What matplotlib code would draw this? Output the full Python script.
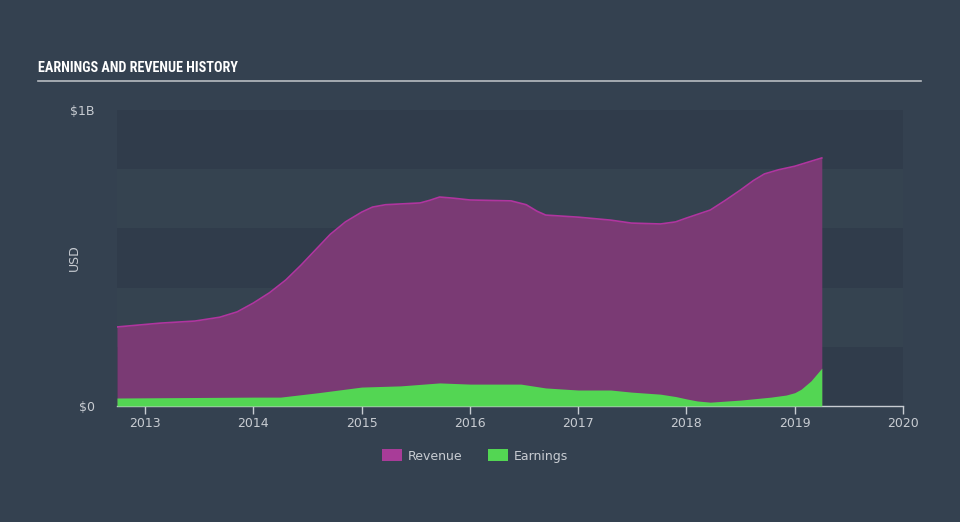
import matplotlib
matplotlib.use("Agg")
import matplotlib.pyplot as plt
from matplotlib.patches import Patch
from matplotlib import font_manager

rev_x = [2012.74, 2013.14, 2013.46, 2013.69, 2013.85, 2014.0, 2014.15, 2014.3, 2014.44, 2014.58, 2014.71,
         2014.85, 2015.0, 2015.1, 2015.22, 2015.54, 2015.63, 2015.72, 2015.85, 2016.0, 2016.38, 2016.52,
         2016.62, 2016.7, 2017.0, 2017.3, 2017.49, 2017.76, 2017.9, 2018.0, 2018.22, 2018.36, 2018.5,
         2018.62, 2018.72, 2018.85, 2019.0, 2019.25]
revenue = [0.267, 0.28, 0.287, 0.30, 0.318, 0.348, 0.383, 0.426, 0.476, 0.53, 0.58,
           0.622, 0.655, 0.672, 0.68, 0.686, 0.695, 0.706, 0.702, 0.696, 0.693, 0.68,
           0.658, 0.645, 0.638, 0.628, 0.618, 0.615, 0.622, 0.635, 0.662, 0.695, 0.73,
           0.762, 0.784, 0.798, 0.81, 0.838]
earn_x = [2012.74, 2014.0, 2014.25, 2014.6, 2015.0, 2015.36, 2015.72, 2016.0, 2016.47, 2016.7,
          2017.0, 2017.3, 2017.49, 2017.76, 2017.9, 2018.0, 2018.1, 2018.22, 2018.5, 2018.78,
          2018.92, 2019.0, 2019.06, 2019.15, 2019.25]
earnings = [0.027, 0.03, 0.03, 0.045, 0.064, 0.068, 0.078, 0.074, 0.074, 0.061,
            0.054, 0.054, 0.047, 0.04, 0.032, 0.024, 0.017, 0.013, 0.02, 0.03,
            0.037, 0.045, 0.057, 0.085, 0.128]
years = [2013, 2014, 2015, 2016, 2017, 2018, 2019, 2020]
ytick_vals = [0, 1.0]
ytick_labels = ["$0", "$1B"]

BG = "#344150"
DARK = "#303c4b"
LIGHT = "#354350"
REV_FILL = "#7a3a74"
REV_LINE = "#b0359f"
EARN = "#53d653"
TXT = "#c8ccd2"

names = {f.name for f in font_manager.fontManager.ttflist}
title_font, title_size = "DejaVu Sans", 9.5
for cand, sz in [("Roboto Condensed", 10.2), ("Liberation Sans Narrow", 10.2), ("Open Sans Condensed", 10.2),
                 ("Roboto", 10)]:
    if cand in names:
        title_font, title_size = cand, sz
        break

fig = plt.figure(figsize=(9.6, 5.22), dpi=100, facecolor=BG)
ax = fig.add_axes([117/960, 1-406/522, (903-117)/960, (406-110)/522])
ax.set_facecolor(BG)
ax.set_xlim(2012.74, 2020.0)
ax.set_ylim(0, 1.0)

for i in range(5):
    ax.axhspan(i*0.2, (i+1)*0.2, color=DARK if i % 2 == 0 else LIGHT, lw=0, zorder=0)

ax.fill_between(rev_x, 0, revenue, color=REV_FILL, lw=0, zorder=2)
ax.plot(rev_x, revenue, color=REV_LINE, lw=1.2, zorder=3, solid_joinstyle="round")
ax.fill_between(earn_x, 0, earnings, color=EARN, lw=0, zorder=4)

for s in ["top", "right", "left"]:
    ax.spines[s].set_visible(False)
ax.spines["bottom"].set_color("#c8ccd2")
ax.spines["bottom"].set_linewidth(1)
ax.set_xticks(years)
ax.set_xticklabels([str(y) for y in years])
ax.tick_params(axis="x", colors="#c8ccd2", labelcolor=TXT, length=6, width=1, labelsize=9, pad=2)
ax.set_yticks(ytick_vals)
ax.set_yticklabels(ytick_labels)
ax.tick_params(axis="y", length=0, labelcolor=TXT, labelsize=9, pad=16)
ax.set_ylabel("USD", color=TXT, fontsize=9, labelpad=-2)
ax.yaxis.set_label_coords(-36/786, 0.5)

fig.text(38/960, 1-68/522, "EARNINGS AND REVENUE HISTORY", color="white", fontsize=title_size,
         fontweight="bold", family=[title_font, "DejaVu Sans"], va="center", ha="left")
fig.add_artist(plt.Line2D([38/960, 921/960], [1-81/522, 1-81/522], color="#b8bcc2", lw=1.2))

handles = [Patch(facecolor="#a83c98", label="Revenue"), Patch(facecolor=EARN, label="Earnings")]
leg = fig.legend(handles=handles, loc="center", bbox_to_anchor=(475/960, 1-456/522), ncol=2,
                 frameon=False, fontsize=9, handlelength=1.6, handleheight=1.1, columnspacing=2.0,
                 handletextpad=0.5)
for t in leg.get_texts():
    t.set_color(TXT)

fig.savefig("out.png", dpi=100, facecolor=BG)
